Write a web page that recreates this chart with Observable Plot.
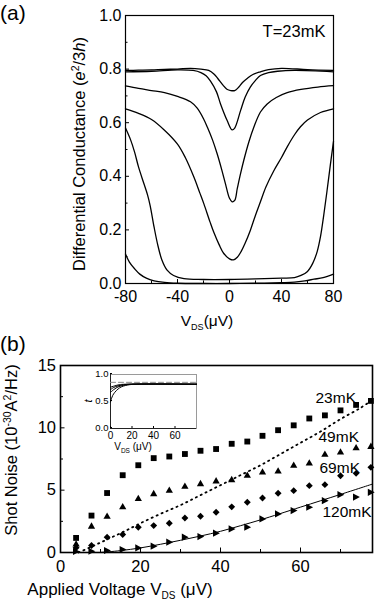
<!DOCTYPE html>
<html><head><meta charset="utf-8">
<script src="https://cdn.jsdelivr.net/npm/d3@7"></script>
<script src="https://cdn.jsdelivr.net/npm/@observablehq/plot@0.6"></script>
<style>
body{margin:0;background:#fff;}
#wrap{position:relative;width:382px;height:604px;background:#fff;font-family:"Liberation Sans",Arial,sans-serif;color:#000;}
#wrap svg{position:absolute;overflow:visible;}
.plabel{position:absolute;left:0;font-size:21px;line-height:1;}
</style></head><body><div id="wrap"></div>
<script>
const FONT = '"Liberation Sans", Arial, sans-serif';

// ---------- Panel (a): differential conductance vs V_DS (µV), units e^2/3h ----------
const curveA = [[-80,0.795],[-70,0.796],[-60,0.797],[-50,0.799],[-40,0.8],[-30,0.803],[-22,0.8],[-16,0.795],[-12,0.782],[-9,0.765],[-5,0.74],[-2,0.725],[1,0.72],[4,0.72],[7,0.732],[10,0.75],[13.6,0.765],[18,0.78],[23.8,0.79],[30,0.798],[40,0.803],[60,0.798],[80,0.795]];
const curveB = [[-80,0.79],[-60,0.792],[-40,0.797],[-28,0.795],[-22,0.787],[-18,0.775],[-14.6,0.755],[-10,0.715],[-6.9,0.67],[-1.8,0.608],[2,0.573],[4,0.58],[8.5,0.645],[12,0.695],[16,0.733],[20,0.758],[23.8,0.776],[30,0.787],[37,0.792],[50,0.795],[80,0.79]];
const curveC = [[-80,0.737],[-70,0.728],[-60,0.72],[-50,0.712],[-40,0.698],[-30,0.678],[-25,0.655],[-20,0.615],[-17,0.583],[-13,0.535],[-9.5,0.484],[-6,0.425],[-3,0.37],[0,0.318],[2,0.305],[4,0.31],[6,0.355],[8.5,0.41],[11,0.46],[15,0.53],[18.7,0.583],[23.8,0.64],[29,0.67],[36,0.694],[44.4,0.712],[55,0.724],[68,0.733],[80,0.738]];
const curveD = [[-80,0.652],[-70,0.635],[-60,0.612],[-50,0.572],[-40,0.52],[-34,0.47],[-27.4,0.397],[-23,0.34],[-19.7,0.297],[-15,0.23],[-12,0.19],[-8,0.145],[-4.4,0.112],[0,0.092],[3,0.088],[6,0.098],[9,0.12],[12,0.15],[16,0.198],[20,0.255],[23.8,0.305],[28,0.36],[34,0.42],[40,0.47],[44.4,0.51],[50,0.555],[54.6,0.585],[60,0.61],[70,0.638],[80,0.652]];
const curveE = [[-80,0.58],[-76,0.535],[-73,0.49],[-70,0.435],[-66,0.375],[-63,0.33],[-61,0.29],[-58,0.21],[-55,0.14],[-52,0.088],[-48,0.05],[-43,0.03],[-35,0.018],[-20,0.015],[0,0.015],[20,0.017],[40,0.02],[50,0.022],[55,0.03],[60,0.045],[64,0.075],[67.5,0.12],[70,0.175],[72.5,0.255],[75,0.345],[77.5,0.44],[80,0.53]];
const curveF = [[-80,0.11],[-77,0.08],[-73,0.055],[-69,0.035],[-64,0.02],[-58,0.01],[-50,0.004],[-40,0.001],[-20,0.0],[0,0.0],[20,0.001],[40,0.003],[50,0.005],[58,0.01],[65,0.016],[72,0.022],[80,0.035]];
const conductanceCurves = [curveA, curveB, curveC, curveD, curveE, curveF];
const gTicks = [0, 0.2, 0.4, 0.6, 0.8, 1.0];
const gMinor = [0.1, 0.3, 0.5, 0.7, 0.9];
const vTicksA = [-80, -40, 0, 40, 80];
const vMinorA = [-60, -20, 20, 60];
const tempLabel = ["T=23mK"];
const tempLabelPos = [[73.8, 0.918]];

// ---------- Panel (b): shot noise (1e-30 A^2/Hz) vs applied voltage (µV) ----------
const vDS = [3.9, 7.75, 11.65, 15.55, 19.45, 23.3, 27.2, 31.1, 35, 38.9, 42.8, 46.7, 50.5, 54.4, 58.3, 62.2, 66.1, 70, 73.9, 77.6];
const noise23 = [1.17, 2.96, 4.77, 6.2, 7.0, 7.57, 7.7, 7.9, 8.16, 8.3, 8.72, 8.9, 9.36, 9.81, 10.2, 10.75, 11.0, 11.4, 11.84, 12.16];
const noise49 = [0.65, 2.08, 2.88, 3.63, 4.29, 4.69, 4.96, 5.28, 5.49, 5.71, 5.81, 6.16, 6.43, 6.5, 6.96, 7.15, 7.84, 8.03, 8.37, 8.48];
const noise69 = [0.38, 0.56, 1.23, 1.44, 2.03, 2.16, 2.35, 2.77, 2.91, 3.23, 3.66, 4.03, 4.37, 4.75, 4.96, 5.36, 5.44, 6.16, 6.35, 6.83];
const noise120 = [0.08, 0.1, 0.16, 0.24, 0.37, 0.51, 0.83, 1.23, 1.28, 1.55, 1.89, 2.03, 2.69, 3.09, 3.36, 3.63, 4.16, 4.64, 4.45, 4.83];
const fitDotted = [[4.5,0],[8,0.5],[12,1.1],[16,1.7],[20,2.35],[25,3.1],[30,3.8],[35,4.6],[40,5.4],[45,6.2],[50,7.0],[55,7.9],[60,8.8],[65,9.7],[70,10.7],[75,11.6],[78,12.25]];
const fitSolid = [[10,0],[15,0.15],[20,0.37],[25,0.66],[30,0.98],[35,1.32],[40,1.7],[45,2.15],[50,2.62],[60,3.64],[70,4.66],[78,5.49]];
const seriesLabels = ["23mK", "49mK", "69mK", "120mK"];
const seriesLabelV = [63.75, 64.5, 64.75, 65.5];
const seriesLabelS = [12.0, 8.88, 6.4, 2.88];
const sTicks = [0, 5, 10, 15];
const sMinor = [2.5, 7.5, 12.5];
const vTicksB = [0, 20, 40, 60];
const vMinorB = [10, 30, 50, 70];

// ---------- Inset: t vs V_DS ----------
const inset1 = [[0,0.49],[1,0.56],[2,0.61],[4,0.67],[7,0.73],[10,0.77],[14,0.797],[18,0.812],[25,0.82],[80,0.82]];
const inset2 = [[0,0.67],[3,0.72],[6,0.76],[10,0.79],[15,0.81],[22,0.82],[80,0.82]];
const inset3 = [[0,0.72],[3,0.76],[7,0.79],[12,0.81],[18,0.82],[80,0.82]];
const inset4 = [[0,0.765],[4,0.79],[8,0.81],[14,0.82],[80,0.82]];
const insetTop = [[0,0.855],[80,0.855]];
const insetCurves = [inset1, inset2, inset3, inset4];
const tTicks = [0, 0.5, 1.0];
const vTicksInset = [0, 20, 40, 60];

// ---------- build ----------
const wrap = document.getElementById("wrap");
const baseStyle = {fontFamily: FONT, background: "transparent", color: "black", overflow: "visible"};

const rowsA = conductanceCurves.flatMap((c, k) => c.map(([v, g]) => ({k, v, g})));
const plotA = Plot.plot({
  width: 382, height: 340,
  marginLeft: 125, marginRight: 49, marginTop: 15, marginBottom: 57,
  x: {domain: [-80, 80]},
  y: {domain: [0, 1]},
  style: {...baseStyle, fontSize: "15.5px"},
  marks: [
    Plot.frame({stroke: "black", strokeWidth: 1.2}),
    Plot.axisY(gTicks, {anchor: "left", tickSize: -4, tickPadding: 8, tickFormat: d => d.toFixed(1), fontSize: 16, label: null}),
    Plot.axisY(gMinor, {anchor: "left", tickSize: -2.5, fill: "none", label: null}),
    Plot.axisX(vTicksA, {anchor: "bottom", tickSize: -4, tickPadding: 11, tickFormat: d => String(d), fontSize: 16, label: null}),
    Plot.axisX(vMinorA, {anchor: "bottom", tickSize: -2.5, fill: "none", label: null}),
    Plot.line(rowsA, {x: "v", y: "g", z: "k", stroke: "black", strokeWidth: 1.3, curve: "catmull-rom"}),
    Plot.text(tempLabel, {x: (d, i) => tempLabelPos[i][0], y: (d, i) => tempLabelPos[i][1], text: d => d, textAnchor: "end", lineAnchor: "bottom", fontSize: 16.5})
  ]
});
plotA.style.left = "0px"; plotA.style.top = "0px";
wrap.appendChild(plotA);

const rightTriangle = {
  draw(context, size) {
    const s = Math.sqrt(size) * 0.6;
    context.moveTo(-s * 0.85, -s);
    context.lineTo(s * 1.05, 0);
    context.lineTo(-s * 0.85, s);
    context.closePath();
  }
};
const tbl = (arr) => vDS.map((v, i) => ({v, s: arr[i]}));
const plotB = Plot.plot({
  width: 382, height: 294,
  marginLeft: 60, marginRight: 10, marginTop: 55, marginBottom: 52,
  x: {domain: [0, 78]},
  y: {domain: [0, 15]},
  style: {...baseStyle, fontSize: "16px"},
  marks: [
    Plot.axisY(sTicks, {anchor: "left", tickSize: -4.5, tickPadding: 9, tickFormat: d => String(d), fontSize: 16.5, label: null}),
    Plot.axisY(sMinor, {anchor: "left", tickSize: -3, fill: "none", label: null}),
    Plot.axisX(vTicksB, {anchor: "bottom", tickSize: -4.5, tickPadding: 12, tickFormat: d => String(d), fontSize: 16.5, label: null}),
    Plot.axisX(vMinorB, {anchor: "bottom", tickSize: -3, fill: "none", label: null}),
    Plot.line(fitDotted, {x: d => d[0], y: d => d[1], stroke: "black", strokeWidth: 1.8, strokeDasharray: "1.2,4.2", strokeLinecap: "round", curve: "catmull-rom"}),
    Plot.line(fitSolid, {x: d => d[0], y: d => d[1], stroke: "black", strokeWidth: 1, curve: "catmull-rom"}),
    Plot.dot(tbl(noise23), {x: "v", y: "s", symbol: "square", r: 3.3, fill: "black", stroke: "none"}),
    Plot.dot(tbl(noise49), {x: "v", y: "s", symbol: "triangle", r: 2.7, fill: "black", stroke: "none"}),
    Plot.dot(tbl(noise69), {x: "v", y: "s", symbol: "diamond2", r: 3.1, fill: "black", stroke: "none"}),
    Plot.dot(tbl(noise120), {x: "v", y: "s", symbol: rightTriangle, r: 3.4, fill: "black", stroke: "none"}),
    Plot.text(seriesLabels, {x: (d, i) => seriesLabelV[i], y: (d, i) => seriesLabelS[i], text: d => d, textAnchor: "start", lineAnchor: "bottom", fontSize: 15.5}),
    Plot.frame({stroke: "black", strokeWidth: 1.6})
  ]
});
plotB.style.left = "0px"; plotB.style.top = "310px";
wrap.appendChild(plotB);

const rowsI = insetCurves.flatMap((c, k) => c.map(([v, t]) => ({k, v, t})));
const plotI = Plot.plot({
  width: 120, height: 90,
  marginLeft: 30, marginRight: 4, marginTop: 8, marginBottom: 28,
  x: {domain: [0, 80]},
  y: {domain: [0, 1]},
  style: {...baseStyle, fontSize: "10px"},
  marks: [
    Plot.frame({stroke: "#9a9a9a", strokeWidth: 1}),
    Plot.ruleX([0], {stroke: "#222", strokeWidth: 1}),
    Plot.ruleY([0], {stroke: "#222", strokeWidth: 1}),
    Plot.axisY(tTicks, {anchor: "left", tickSize: -2, tickPadding: 4, tickFormat: d => d.toFixed(1), fontSize: 9.5, dy: -1, label: null}),
    Plot.axisX(vTicksInset, {anchor: "bottom", tickSize: -2, tickPadding: 5, tickFormat: d => String(d), fontSize: 10, label: null}),
    Plot.line(insetTop, {x: d => d[0], y: d => d[1], stroke: "#888", strokeWidth: 1, strokeDasharray: "5,3"}),
    Plot.line(rowsI, {x: "v", y: "t", z: "k", stroke: "black", strokeWidth: 1, curve: "catmull-rom"})
  ]
});
plotI.style.left = "80px"; plotI.style.top = "366px";
wrap.appendChild(plotI);

// ---------- titles with rich text ----------
function addText(svg, attrs, html) {
  const t = d3.select(svg).append("text");
  for (const [k, v] of Object.entries(attrs)) t.attr(k, v);
  t.attr("font-family", FONT).attr("fill", "black").html(html);
  return t;
}
addText(plotA, {transform: "translate(85,154) rotate(-90)", "text-anchor": "middle", "font-size": 16.5},
  'Differential Conductance (<tspan font-style="italic">e</tspan><tspan dy="-6" font-size="10.5">2</tspan><tspan dy="6">/3</tspan><tspan font-style="italic">h</tspan>)');
addText(plotA, {x: 207, y: 326, "font-size": 15.5},
  'V<tspan dy="4" font-size="9">DS</tspan><tspan dy="-4">(μV)</tspan>');

addText(plotB, {transform: "translate(17,140) rotate(-90)", "text-anchor": "middle", "font-size": 16.5},
  'Shot Noise (10<tspan dy="-6" font-size="10.5">-30</tspan><tspan dy="6">A</tspan><tspan dy="-6" font-size="10.5">2</tspan><tspan dy="6">/Hz)</tspan>');
addText(plotB, {x: 120, y: 285, "font-size": 17},
  'Applied Voltage V<tspan dy="4" font-size="10">DS</tspan><tspan dy="-4"> (μV)</tspan>');

addText(plotI, {transform: "translate(12,35) rotate(-90)", "text-anchor": "middle", "font-size": 11, "font-style": "italic"}, 't');
addText(plotI, {x: 53, y: 84, "font-size": 10}, 'V<tspan dy="3" font-size="6.5">DS</tspan><tspan dy="-3"> (μV)</tspan>');

const la = document.createElement("div"); la.className = "plabel"; la.textContent = "(a)"; la.style.top = "2px"; wrap.appendChild(la);
const lb = document.createElement("div"); lb.className = "plabel"; lb.textContent = "(b)"; lb.style.top = "333px"; wrap.appendChild(lb);
</script>
</body></html>
